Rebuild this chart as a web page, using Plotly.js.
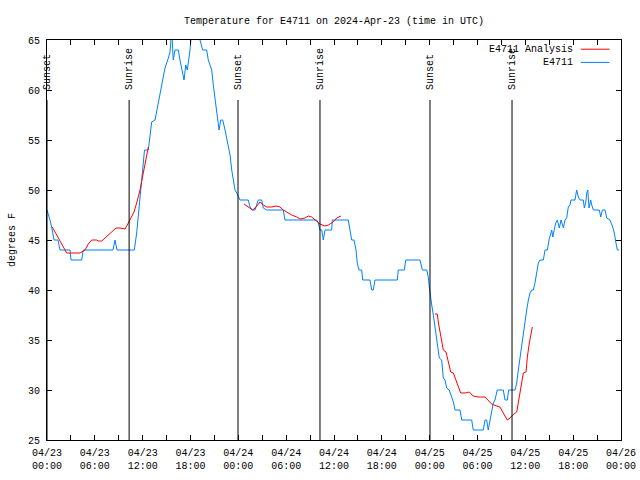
<!DOCTYPE html>
<html>
<head>
<meta charset="utf-8">
<script src="https://cdn.plot.ly/plotly-3.0.1.min.js"></script>
<style>html,body{margin:0;padding:0;background:#fff;}#chart{width:640px;height:480px;}</style>
</head>
<body>
<div id="chart"></div>
<script>
// hours since 2024-04-23 00:00 UTC
const blueHours = [0.0,0.38,0.66,0.88,1.38,1.63,2.89,3.01,4.35,4.55,8.28,8.53,8.78,10.95,11.25,11.45,11.67,11.98,12.23,12.71,13.13,13.55,13.96,14.39,14.80,15.22,15.43,15.64,15.84,16.05,16.47,16.68,16.90,17.19,17.40,17.60,17.94,18.15,18.98,19.19,19.53,20.03,20.23,20.66,20.86,21.07,21.29,21.58,21.79,22.04,22.33,22.74,22.96,23.17,23.37,23.58,23.80,24.21,25.25,25.46,25.75,26.09,26.50,26.93,27.13,27.55,29.64,29.85,33.83,34.03,34.24,34.46,34.66,34.87,35.71,35.79,37.79,38.01,38.22,38.51,38.76,38.92,39.13,39.47,39.60,40.51,40.73,40.93,41.14,43.94,44.06,44.82,45.00,46.79,47.08,47.63,47.83,47.95,48.13,48.26,48.46,48.67,48.88,49.08,49.21,49.51,49.71,49.92,50.14,50.46,50.76,50.97,51.18,51.81,52.02,53.27,53.47,54.73,54.94,55.15,55.35,55.57,55.78,55.98,56.19,56.48,57.24,57.45,57.74,57.91,58.71,58.92,59.12,59.33,59.55,59.75,59.96,60.17,60.38,60.59,60.80,61.00,61.21,61.43,61.63,61.84,62.26,62.47,62.76,62.97,63.18,63.31,63.44,63.60,63.81,64.01,64.26,64.48,64.77,64.98,65.19,65.39,65.60,65.73,66.23,66.44,66.65,66.86,67.27,67.40,67.57,67.70,67.83,67.99,68.20,68.33,68.53,69.28,69.46,69.66,70.00,70.21,70.62,70.96,71.16,71.37,71.54,71.75];
const blueTemps = [48,47,46,45,45,44,44,43,43,44,44,45,44,44,45.7,47.3,49,52,54,54,56.8,57,58.8,60.5,62.2,63.2,63.8,66,63,64,64,63,62,61,62.5,62,64,66,66,65,64,64,63,62,60.5,59,57.5,56,57,57,56,54.5,53.5,52,51,50,49.7,49,49,48.3,48,48,49,49,48.2,48,48,47,47,46.7,46,46,45,46,46,47,47,46,45,45,44,42.7,42,42,41,41,40,40,41,41,42,42,43,43,42,42,41.3,40.3,39.5,38.5,37.5,36.3,35.2,34,33.2,33,31.2,31,30.2,30,29.3,28.8,28,28,27,27,26,26,27,27,26,27,28,28.7,29,30,30,29,29,30,30,30.7,32,33.3,34.3,35.7,37,38,39,39.7,40,40,40.7,41.7,42.7,43,43,44,44,45,45.8,46,45.3,46,46.7,47,46.2,47,46.2,47,47.2,48.3,48.5,49,49,50,49.3,49,49,48.2,48.7,49.7,50,48.2,49,48.5,48,48,47.3,48,48,47.2,47,46.3,45.7,44.7,44,44];

const redHours = [0.66,1.22,1.63,2.04,2.47,4.14,4.77,5.18,5.61,6.23,6.43,6.86,7.28,7.90,8.32,8.66,9.16,9.78,10.20,10.62,10.91,11.25,11.54,11.67,12.08,12.42,12.71,null,
  24.71,25.13,25.46,25.80,26.22,26.72,27.13,27.56,28.19,28.73,29.23,29.64,30.07,30.70,31.32,31.74,32.36,32.78,33.20,33.62,34.24,34.87,35.29,35.91,36.34,36.88,null,
  48.67,48.96,49.08,49.30,49.51,49.71,50.05,50.34,50.64,50.97,51.39,51.89,52.43,52.97,53.47,54.10,54.94,55.35,55.78,56.41,56.82,57.16,57.49,57.74,58.08,58.42,58.92,59.12,59.33,59.55,59.75,60.09,60.25,60.50,60.68,60.88];
const redTemps = [46.3,45.5,44.8,44.2,43.7,43.7,44,44.6,45,45,44.9,44.9,45.2,45.6,45.9,46.2,46.2,46.1,46.7,47.3,47.8,48.7,49.5,50,51.7,53.3,54.3,null,
  48.6,48.4,48.2,48,48.3,48.8,48.5,48.3,48.3,48.4,48.3,48,47.8,47.5,47.3,47.1,47.2,47.4,47.3,47,46.6,46.4,46.5,46.8,47.2,47.4,null,
  37.6,37.6,36.8,35.8,35,34,33.8,32.7,31.8,31.7,30.7,29.7,29.7,29.8,29.4,29.3,29.3,29,28.6,28.4,28.3,27.8,27.3,27,27.2,27.5,27.8,28.8,30,30.7,31.7,31.8,33.3,34.7,35.7,36.3];

const sunHours = [0.0, 10.3, 23.96, 34.24, 48.04, 58.33];
const sunLabels = ['Sunset','Sunrise','Sunset','Sunrise','Sunset','Sunrise'];

const tickHours = [0,3,6,9,12,15,18,21,24,27,30,33,36,39,42,45,48,51,54,57,60,63,66,69,72];
const tickLabels = ['04/23<br>00:00','','04/23<br>06:00','','04/23<br>12:00','','04/23<br>18:00','',
  '04/24<br>00:00','','04/24<br>06:00','','04/24<br>12:00','','04/24<br>18:00','',
  '04/25<br>00:00','','04/25<br>06:00','','04/25<br>12:00','','04/25<br>18:00','','04/26<br>00:00'];

const seriesNames = ['E4711 Analysis','E4711'];
const seriesColors = ['#ff0000','#0080ff'];

const FONT = 'Liberation Mono, DejaVu Sans Mono, monospace';

const traces = [
  {x: blueHours, y: blueTemps, type: 'scatter', mode: 'lines', name: seriesNames[1],
   line: {color: seriesColors[1], width: 1}},
  {x: redHours, y: redTemps, type: 'scatter', mode: 'lines', name: seriesNames[0],
   line: {color: seriesColors[0], width: 1}, connectgaps: false}
];

const shapes = sunHours.map(h => ({type: 'line', xref: 'x', yref: 'y', x0: h, x1: h, y0: 25, y1: 59,
  line: {color: '#000', width: 1}}));
const annotations = sunHours.map((h, i) => ({x: h, y: 59.8, xref: 'x', yref: 'y', text: sunLabels[i],
  textangle: -90, showarrow: false, xanchor: 'center', yanchor: 'bottom',
  font: {family: FONT, size: 10, color: '#000'}}));

// legend (text left, sample right)
const legY = [0.977, 0.944];
seriesNames.forEach((n, i) => {
  annotations.push({x: 0.919, y: legY[i], xref: 'paper', yref: 'paper', text: n, showarrow: false,
    xanchor: 'right', yanchor: 'middle', font: {family: FONT, size: 10, color: '#000'}});
  shapes.push({type: 'line', xref: 'paper', yref: 'paper', x0: 0.930, x1: 0.980, y0: legY[i], y1: legY[i],
    line: {color: seriesColors[i], width: 1}});
});

const layout = {
  width: 640, height: 480,
  margin: {l: 47, r: 19, t: 40, b: 40},
  paper_bgcolor: '#fff', plot_bgcolor: '#fff',
  showlegend: false,
  font: {family: FONT, size: 10, color: '#000'},
  title: {text: 'Temperature for E4711 on 2024-Apr-23 (time in UTC)', x: 0.5, xref: 'paper',
    y: 0.958, yref: 'container', yanchor: 'middle', font: {family: FONT, size: 10, color: '#000'}},
  xaxis: {range: [0, 72], tickmode: 'array', tickvals: tickHours, ticktext: tickLabels,
    ticks: 'inside', ticklen: 5, tickcolor: '#000', showgrid: false, zeroline: false,
    showline: true, linecolor: '#000', linewidth: 1, mirror: 'ticks', ticklabelstandoff: 3,
    tickfont: {family: FONT, size: 10, color: '#000'}},
  yaxis: {range: [25, 65], tickmode: 'array', tickvals: [25,30,35,40,45,50,55,60,65],
    ticks: 'inside', ticklen: 5, tickcolor: '#000', showgrid: false, zeroline: false,
    showline: true, linecolor: '#000', linewidth: 1, mirror: 'ticks', ticklabelstandoff: 4,
    tickfont: {family: FONT, size: 10, color: '#000'},
    title: {text: 'degrees F', font: {family: FONT, size: 10, color: '#000'}, standoff: 10}},
  shapes: shapes,
  annotations: annotations
};

Plotly.newPlot('chart', traces, layout, {displayModeBar: false, staticPlot: true});
</script>
</body>
</html>
